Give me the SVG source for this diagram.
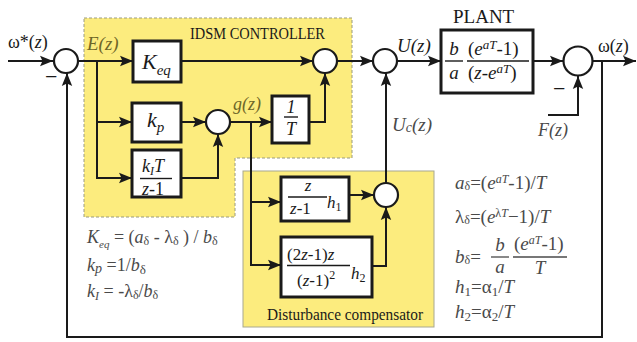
<svg xmlns="http://www.w3.org/2000/svg" width="637" height="342" viewBox="0 0 637 342" font-family="Liberation Serif, Times New Roman, Times, Nimbus Roman, Noto Serif, DejaVu Serif, serif">
<defs>
<marker id="ah" markerUnits="userSpaceOnUse" markerWidth="14" markerHeight="12" refX="13" refY="6" orient="auto"><path d="M0,0.8 L13,6 L0,11.2 L2.5,6 Z" fill="#1a1a1a"/></marker>
</defs>
<style>
.ln{fill:none;stroke:#1a1a1a;stroke-width:2}
.ar{marker-end:url(#ah)}
.bx{fill:#fff;stroke:#1a1a1a;stroke-width:3}
.sm{fill:#fff;stroke:#1a1a1a;stroke-width:2.2}
.fl{stroke:#1a1a1a;stroke-width:1.4}
text{fill:#1a1a1a}
.it{font-style:italic}
.lb{fill:#4a4a4a}
.ol{fill:#6e6628}
.yel{fill:#fcec7e}
</style>
<rect width="637" height="342" fill="#fff"/>

<g id="idsm-region">
<polygon class="yel" points="84,18 352,18 352,158 235,158 235,217 84,217" stroke="#9a9a80" stroke-width="1" stroke-dasharray="3,2"/>
<text x="190" y="39" font-size="17" textLength="135" lengthAdjust="spacingAndGlyphs" fill="#333">IDSM CONTROLLER</text>
</g>
<g id="dc-region">
<rect class="yel" x="243" y="171" width="191" height="156" stroke="#a8a890" stroke-width="1"/>
<text x="267" y="320" font-size="17" textLength="156" lengthAdjust="spacingAndGlyphs" fill="#333">Disturbance compensator</text>
</g>

<g id="connectors">
<path class="ln ar" d="M8,61 H53"/>
<path class="ln ar" d="M602,61 V337 H67 V73"/>
<path class="ln ar" d="M78,61 H133"/>
<path class="ln ar" d="M97,61 V178 H132"/>
<path class="ln ar" d="M97,122 H132"/>
<path class="ln ar" d="M181,122 H206"/>
<path class="ln ar" d="M181,178 H218 V134"/>
<path class="ln ar" d="M230,122 H272"/>
<path class="ln ar" d="M251,122 V265 H281"/>
<path class="ln ar" d="M251,202 H281"/>
<path class="ln ar" d="M309,122 H325 V73"/>
<path class="ln ar" d="M181,61 H313"/>
<path class="ln ar" d="M337,61 H373"/>
<path class="ln ar" d="M397,61 H441"/>
<path class="ln ar" d="M349,195 H374"/>
<path class="ln ar" d="M372,266 H386 V207"/>
<path class="ln ar" d="M386,183 V73"/>
<path class="ln ar" d="M533,61 H563"/>
<path class="ln ar" d="M593,61 H636"/>
<path class="ln ar" d="M548,115 H578 V76"/>
</g>

<g id="labels">
<text x="8" y="48" font-size="18">ω*(<tspan class="it">z</tspan>)</text>
<text x="45" y="84" font-size="22">−</text>
<text x="87" y="50" font-size="19" class="it ol">E(z)</text>
<text x="233" y="110" font-size="18" class="it ol">g(z)</text>
<text x="397" y="52" font-size="19" class="it">U(z)</text>
<text x="392" y="131" font-size="19" class="it lb">U<tspan font-size="14" dy="1">c</tspan><tspan dy="-1">(z)</tspan></text>
<text x="598" y="52" font-size="18">ω(<tspan class="it">z</tspan>)</text>
<text x="553" y="96" font-size="22">−</text>
<text x="538" y="136" font-size="18" class="it lb">F(z)</text>
<text x="453" y="23" font-size="19" fill="#333">PLANT</text>
</g>

<g id="sum1"><circle class="sm" cx="66" cy="61" r="12"/></g>
<g id="sum2"><circle class="sm" cx="218" cy="122" r="12"/></g>
<g id="sum3"><circle class="sm" cx="325" cy="61" r="12"/></g>
<g id="sum4"><circle class="sm" cx="385" cy="61" r="12"/></g>
<g id="sum-dc"><circle class="sm" cx="386" cy="195" r="12"/></g>
<g id="sum5"><circle class="sm" cx="578" cy="61" r="14.5"/></g>

<g id="keq">
<rect class="bx" x="133" y="41" width="48" height="41"/>
<text x="142" y="69" font-size="22" class="it">K<tspan font-size="15" dy="6">eq</tspan></text>
</g>
<g id="kp">
<rect class="bx" x="132" y="103" width="49" height="39"/>
<text x="147" y="127" font-size="22" class="it">k<tspan font-size="15" dy="5">p</tspan></text>
</g>
<g id="ki">
<rect class="bx" x="132" y="150" width="49" height="47"/>
<text x="142" y="172" font-size="18" class="it">k<tspan font-size="12" dy="3">I</tspan><tspan dy="-3">T</tspan></text>
<line class="fl" x1="140" y1="178.5" x2="172" y2="178.5"/>
<text x="142" y="195" font-size="18"><tspan class="it">z</tspan>-1</text>
</g>
<g id="inv-t">
<rect class="bx" x="272" y="96" width="37" height="47"/>
<text x="291" y="113" font-size="18" class="it" text-anchor="middle">1</text>
<line class="fl" x1="284" y1="117" x2="298" y2="117"/>
<text x="291" y="135" font-size="18" class="it" text-anchor="middle">T</text>
</g>
<g id="plant">
<rect class="bx" x="441" y="30" width="92" height="63"/>
<text x="454" y="55" font-size="19" class="it" text-anchor="middle">b</text>
<line class="fl" x1="445" y1="61" x2="463" y2="61"/>
<text x="454" y="79" font-size="19" class="it" text-anchor="middle">a</text>
<text x="468" y="55" font-size="19">(<tspan class="it">e</tspan><tspan class="it" font-size="13" dy="-6">aT</tspan><tspan dy="6">-1)</tspan></text>
<line class="fl" x1="467" y1="61" x2="529" y2="61"/>
<text x="468" y="79" font-size="19">(<tspan class="it">z</tspan>-<tspan class="it">e</tspan><tspan class="it" font-size="13" dy="-6">aT</tspan><tspan dy="6">)</tspan></text>
</g>
<g id="h1">
<rect class="bx" x="281" y="177" width="68" height="44"/>
<text x="308" y="191" font-size="17" class="it" text-anchor="middle">z</text>
<line class="fl" x1="288" y1="197" x2="327" y2="197"/>
<text x="290" y="214" font-size="17"><tspan class="it">z</tspan>-1</text>
<text x="327" y="208" font-size="17" class="it">h<tspan font-size="12" dy="3" font-style="normal">1</tspan></text>
</g>
<g id="h2">
<rect class="bx" x="281" y="237" width="91" height="60"/>
<text x="287" y="260" font-size="17">(2<tspan class="it">z</tspan>-1)<tspan class="it">z</tspan></text>
<line class="fl" x1="287" y1="265.5" x2="350" y2="265.5"/>
<text x="297" y="286" font-size="17">(<tspan class="it">z</tspan>-1)<tspan font-size="12" dy="-7">2</tspan></text>
<text x="351" y="279" font-size="17" class="it">h<tspan font-size="12" dy="3" font-style="normal">2</tspan></text>
</g>

<g id="left-formulas" class="lb">
<text x="87" y="243" font-size="18" class="lb"><tspan class="it">K</tspan><tspan class="it" font-size="11" dy="5">eq</tspan><tspan dy="-5"> = (</tspan><tspan class="it">a</tspan><tspan font-size="12" dy="2">δ</tspan><tspan dy="-2"> - λ</tspan><tspan font-size="12" dy="2">δ</tspan><tspan dy="-2"> ) / </tspan><tspan class="it">b</tspan><tspan font-size="12" dy="2">δ</tspan></text>
<text x="87" y="271" font-size="18" class="lb"><tspan class="it">k</tspan><tspan class="it" font-size="14" dy="2">p</tspan><tspan dy="-2"> =1/</tspan><tspan class="it">b</tspan><tspan font-size="13" dy="3">δ</tspan></text>
<text x="87" y="297" font-size="18" class="lb"><tspan class="it">k</tspan><tspan class="it" font-size="12" dy="3">I</tspan><tspan dy="-3"> = -λ</tspan><tspan font-size="12" dy="2">δ</tspan><tspan dy="-2">/</tspan><tspan class="it">b</tspan><tspan font-size="12" dy="2">δ</tspan></text>
</g>

<g id="right-formulas">
<text x="455" y="189" font-size="19" class="lb"><tspan class="it">a</tspan><tspan font-size="12" dy="1">δ</tspan><tspan dy="-1">=(</tspan><tspan class="it">e</tspan><tspan class="it" font-size="12" dy="-6">aT</tspan><tspan dy="6">-1)/</tspan><tspan class="it">T</tspan></text>
<text x="455" y="223" font-size="19" class="lb">λ<tspan font-size="12" dy="1">δ</tspan><tspan dy="-1">=(</tspan><tspan class="it">e</tspan><tspan font-size="12" dy="-6">λ</tspan><tspan class="it" font-size="12">T</tspan><tspan dy="6">−1)/</tspan><tspan class="it">T</tspan></text>
<text x="455" y="263" font-size="19" class="lb"><tspan class="it">b</tspan><tspan font-size="12" dy="1">δ</tspan><tspan dy="-1">=</tspan></text>
<text x="500" y="251" font-size="19" class="lb it" text-anchor="middle">b</text>
<line x1="491" y1="257" x2="509" y2="257" stroke="#4a4a4a" stroke-width="1.3"/>
<text x="500" y="273" font-size="19" class="lb it" text-anchor="middle">a</text>
<text x="514" y="250" font-size="19" class="lb">(<tspan class="it">e</tspan><tspan class="it" font-size="12" dy="-6">aT</tspan><tspan dy="6">-1)</tspan></text>
<line x1="513" y1="257" x2="567" y2="257" stroke="#4a4a4a" stroke-width="1.3"/>
<text x="540" y="274" font-size="19" class="lb it" text-anchor="middle">T</text>
<text x="455" y="293" font-size="19" class="lb"><tspan class="it">h</tspan><tspan font-size="13" dy="3">1</tspan><tspan dy="-3">=α</tspan><tspan font-size="13" dy="3">1</tspan><tspan dy="-3">/</tspan><tspan class="it">T</tspan></text>
<text x="455" y="318" font-size="19" class="lb"><tspan class="it">h</tspan><tspan font-size="13" dy="3">2</tspan><tspan dy="-3">=α</tspan><tspan font-size="13" dy="3">2</tspan><tspan dy="-3">/</tspan><tspan class="it">T</tspan></text>
</g>
</svg>
